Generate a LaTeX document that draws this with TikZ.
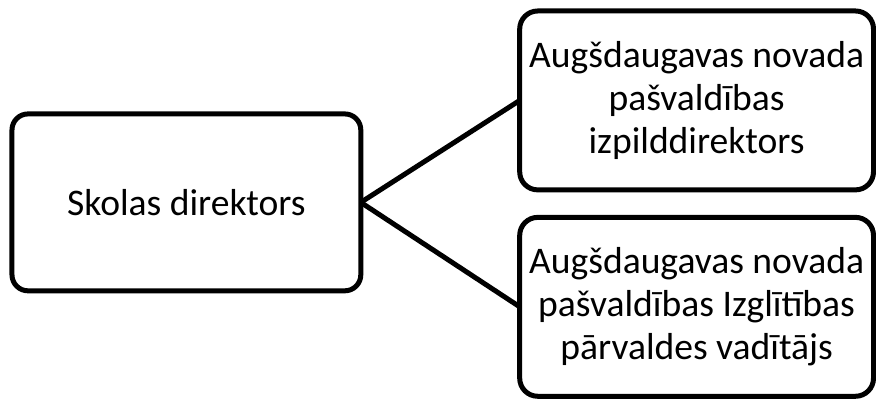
\documentclass[tikz,border=0pt]{standalone}
\usepackage{fontspec}
\setmainfont{Carlito}
\usepackage{tikz}
\usetikzlibrary{positioning,shapes}
\tikzstyle{box} = [rectangle, draw, line width=2.5pt, rounded corners=8pt, outer sep=0pt, align=center, font=\fontsize{18.8pt}{21.5pt}\selectfont]
\tikzstyle{head_box} = [box, minimum width=174.5pt, minimum height=88.5pt]
\tikzstyle{sub_box} = [box, rounded corners=9pt, minimum width=177pt, minimum height=89.5pt]
\tikzstyle{link} = [line width=2.5pt]
\begin{document}
\begin{tikzpicture}

      %%%%%%%%%%%%%%%%%%%%%%%%%%%%%%%%%%%%%%%%%%
      % SKOLAS DIREKTORS
      %%%%%%%%%%%%%%%%%%%%%%%%%%%%%%%%%%%%%%%%%%
      \node[head_box] (SD) {Skolas direktors};

      %%%%%%%%%%%%%%%%%%%%%%%%%%%%%%%%%%%%%%%%%%
      % NOVADA PASVALDIBA
      %%%%%%%%%%%%%%%%%%%%%%%%%%%%%%%%%%%%%%%%%%
      \node[sub_box, above right= -38pt and 79.5pt of SD] (IZD) {Augšdaugavas novada\\pašvaldības\\izpilddirektors};
      \node[sub_box, below= 13.75pt of IZD] (IPV) {Augšdaugavas novada\\pašvaldības Izglītības\\pārvaldes vadītājs};

      \path[link] (SD.east) edge (IZD.west)
                  (SD.east) edge (IPV.west);

      \useasboundingbox ([shift={(-93.25pt,101.25pt)}]SD.center) rectangle ([shift={(344.75pt,-97.75pt)}]SD.center);
\end{tikzpicture}
\end{document}
